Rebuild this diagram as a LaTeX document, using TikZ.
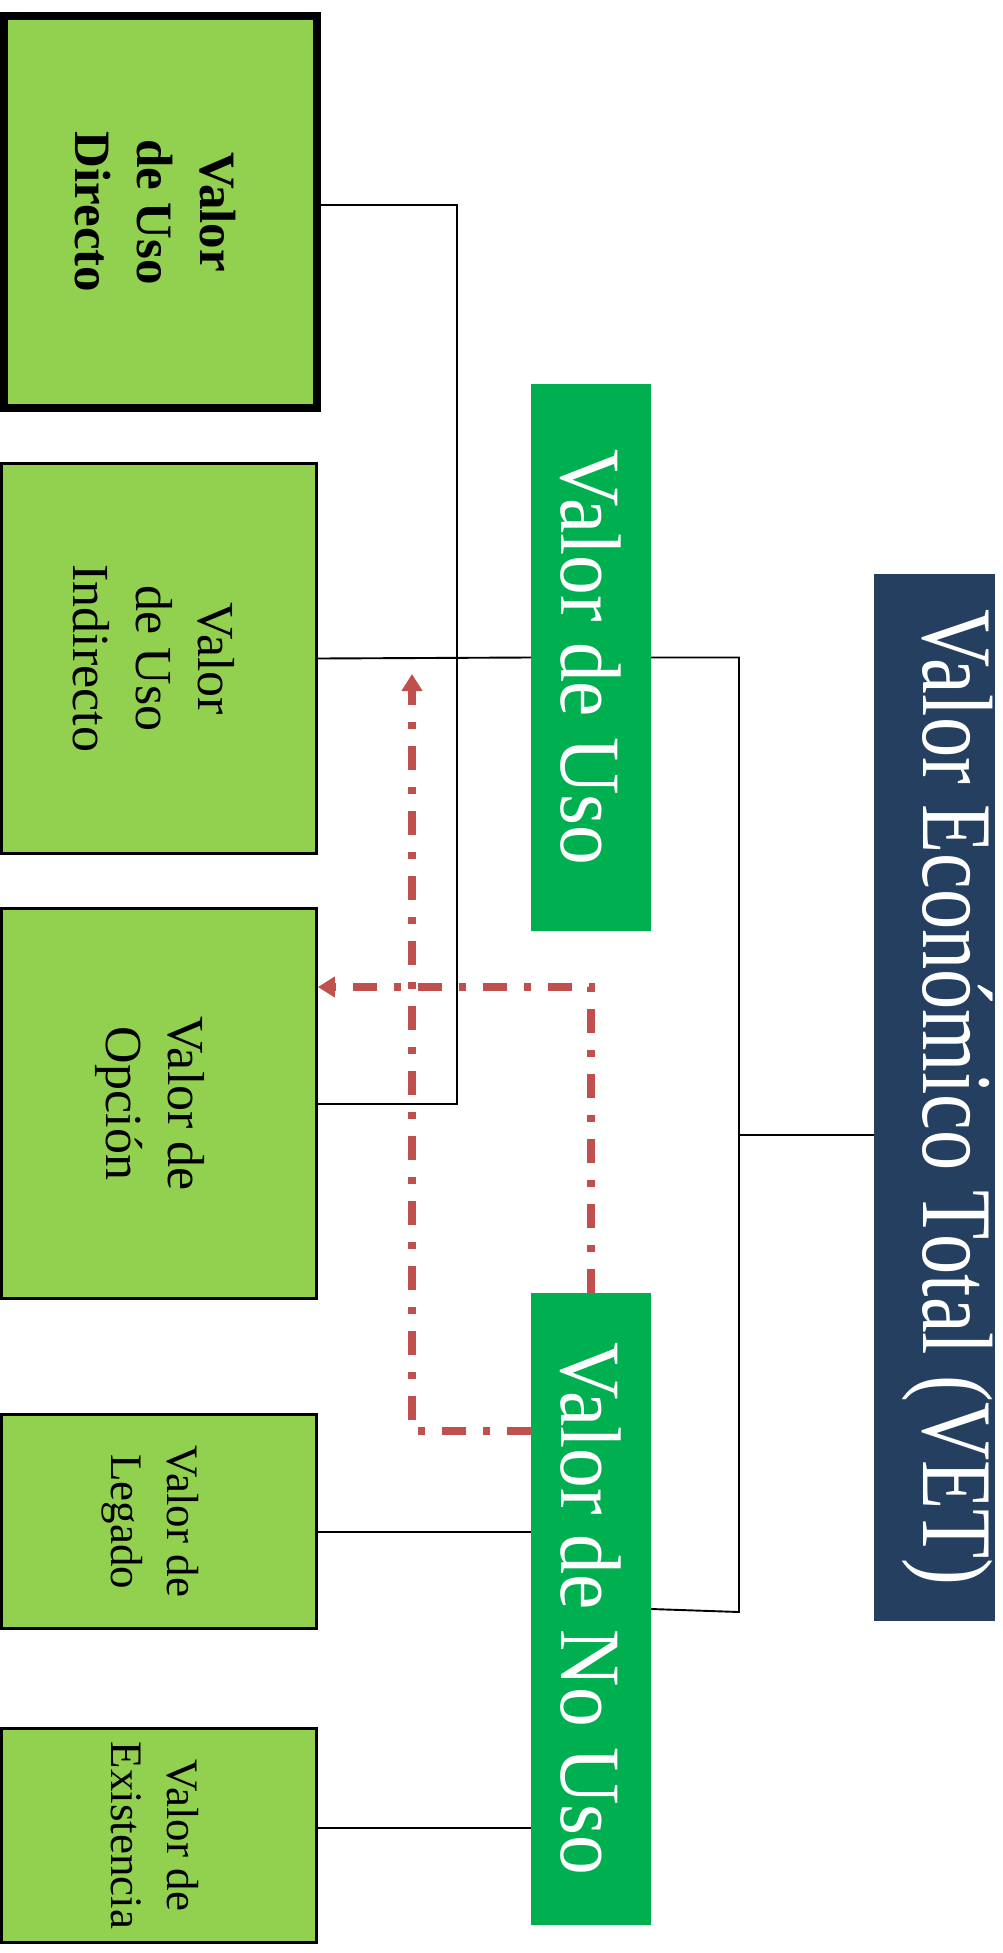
\documentclass[tikz,border=0pt]{standalone}
\usepackage{fontspec}
\usepackage{graphicx}
\setmainfont{Liberation Serif}
\usetikzlibrary{arrows.meta}
\definecolor{vetblue}{HTML}{243F60}
\definecolor{usogreen}{HTML}{00B050}
\definecolor{leafgreen}{HTML}{92D050}
\definecolor{redline}{HTML}{C0504D}
\begin{document}
\begin{tikzpicture}[x=1pt,y=-1pt,
  leaf/.style={draw=black, fill=leafgreen, line width=2.8pt, inner sep=0pt},
  mid/.style={fill=usogreen, text=white, inner sep=0pt, draw=none, minimum width=120pt},
  conn/.style={draw=black, line width=1.9pt},
  dep/.style={draw=redline, line width=7.5pt, dash pattern=on 24pt off 17pt on 7pt off 17pt,
              -{Triangle[length=17pt,width=20pt]}}
]
\useasboundingbox (0,0) rectangle (1003,1953);

% top node
\node[fill=vetblue, minimum width=121pt, minimum height=1047pt, inner sep=0pt] (vet) at (934.5,1097.5)
  {\hspace*{27pt}\rotatebox{-90}{\scalebox{0.805}[1]{\fontsize{100}{120}\selectfont\color{white}Valor Económico Total (VET)}}};

% middle nodes
\node[mid, minimum height=547pt] (uso) at (591,657.5)
  {\rotatebox{-90}{\scalebox{0.925}[1]{\fontsize{86}{100}\selectfont Valor de Uso}}};
\node[mid, minimum height=632pt] (nouso) at (591,1609)
  {\rotatebox{-90}{\scalebox{0.925}[1]{\fontsize{86}{100}\selectfont Valor de No Uso}}};

% leaf nodes
\node[leaf, line width=8pt, minimum width=313pt, minimum height=392pt] (dir) at (160.5,212)
  {\rotatebox{-90}{\fontsize{51}{62.5}\selectfont\bfseries\begin{tabular}{@{}c@{}}Valor\\de Uso\\Directo\end{tabular}}\hspace*{21pt}};
\node[leaf, minimum width=315pt, minimum height=390pt] (ind) at (159,658.5)
  {\rotatebox{-90}{\fontsize{52}{62.5}\selectfont\begin{tabular}{@{}c@{}}Valor\\de Uso\\Indirecto\end{tabular}}\hspace*{21pt}};
\node[leaf, minimum width=315pt, minimum height=390pt] (opc) at (159,1103.5)
  {\rotatebox{-90}{\fontsize{52}{62}\selectfont\begin{tabular}{@{}c@{}}Valor de\\Opción\end{tabular}}\hspace*{18pt}};
\node[leaf, minimum width=315pt, minimum height=214pt] (leg) at (159,1521.5)
  {\rotatebox{-90}{\fontsize{45}{56}\selectfont\begin{tabular}{@{}c@{}}Valor de\\Legado\end{tabular}}\hspace*{16pt}};
\node[leaf, minimum width=315pt, minimum height=214pt] (exi) at (159,1835.5)
  {\rotatebox{-90}{\fontsize{45}{56}\selectfont\begin{tabular}{@{}c@{}}Valor de\\Existencia\end{tabular}}\hspace*{16pt}};

% black connectors
\coordinate (trtop) at (739,657.5);
\coordinate (trmid) at (739,1135);
\coordinate (trbot) at (739,1612);
\draw[conn] (vet.west |- trmid) -- (trmid);
\draw[conn] (uso.east) -- (trtop) -- (trbot) -- (nouso.east);
\draw[conn] (uso.west) -- (ind.east);
\coordinate (vb1) at (457,205);
\coordinate (vb2) at (457,1104);
\draw[conn] (dir.east |- vb1) -- (vb1) -- (vb2) -- (opc.east |- vb2);
\coordinate (lg) at (528,1532);
\draw[conn] (leg.east |- lg) -- (nouso.west |- lg);
\coordinate (ex) at (528,1828);
\draw[conn] (exi.east |- ex) -- (nouso.west |- ex);

% red dash-dot connectors
\coordinate (r1) at (592,987);
\draw[dep] (nouso.north) |- (opc.east |- r1);
\coordinate (r2a) at (412,1431);
\coordinate (r2b) at (412,674);
\draw[dep] (nouso.west |- r2a) -- (r2a) -- (r2b);
\end{tikzpicture}
\end{document}
